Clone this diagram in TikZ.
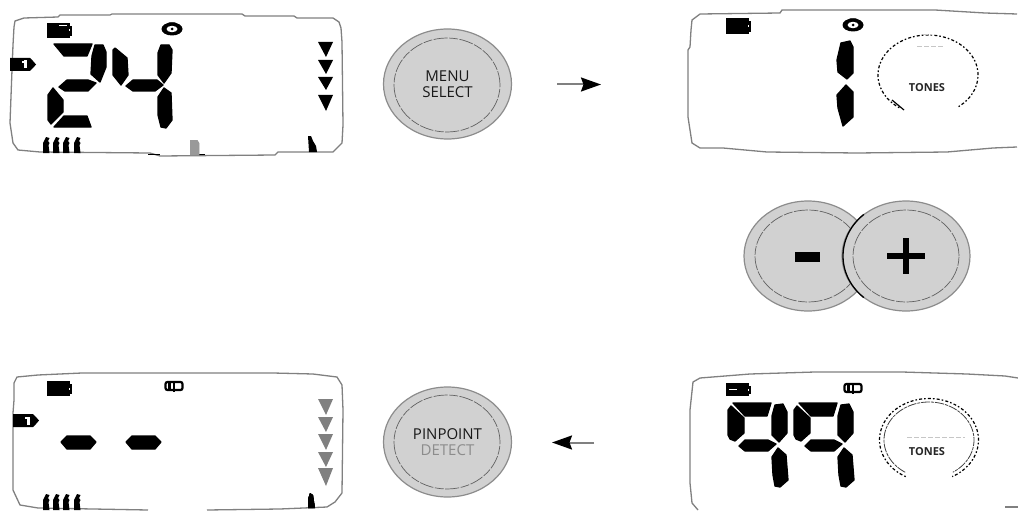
\documentclass[tikz,border=0pt]{standalone}
\usepackage{fontspec}
\setmainfont{Open Sans}
\usetikzlibrary{arrows.meta,shapes.geometric}
\definecolor{btn}{gray}{0.82}
\definecolor{btnedge}{gray}{0.55}
\definecolor{outl}{gray}{0.5}
\definecolor{tri}{gray}{0.5}
\tikzset{
  panel/.style={draw=outl,line width=1.3pt,line join=round},
  seg/.style={fill=black,draw=black,line width=1.3pt,line join=round},
  button/.style={ellipse,fill=btn,draw=btnedge,line width=1.2pt,inner sep=0pt,minimum width=128pt,minimum height=110pt,align=center,font=\fontsize{15}{15.5}\selectfont,text=black!90},
  innerring/.style={draw=gray!75!black,line width=.7pt,dash pattern=on 14pt off 1.5pt on 9pt off 1.5pt},
  flow/.style={draw=gray,line width=2pt,-{Stealth[length=20pt,width=14pt,inset=2.5pt,black]}},
  dialdots/.style={draw=black,line width=1.2pt,dash pattern=on 1.6pt off 2.2pt on 3pt off 2pt},
  dialsolid/.style={draw=black!75,line width=.8pt,dash pattern=on 9pt off 1pt on 3pt off 1pt},
  tones/.style={font=\bfseries\fontsize{11}{11}\selectfont,text=black!85,inner sep=0pt},
  faint/.style={draw=gray!45,line width=.7pt,dash pattern=on 5pt off 2pt}
}
\newcommand{\batt}[3]{% x y h
  \fill (#1,#2) rectangle (#1+23,#2+#3);
  \fill (#1+23,#2+3) rectangle (#1+25,#2+#3-2);
  \fill[white] (#1+22,#2+#3/2-1) rectangle (#1+23,#2+#3/2+1);}
\newcommand{\clockicon}[2]{%
  \fill (#1,#2) ellipse [x radius=10.5pt,y radius=6.5pt];
  \fill (#1-3,#2-6.5) -- (#1+3,#2-6.5) -- (#1+7,#2-3) -- (#1-7,#2-3) -- cycle;
  \fill[white] (#1,#2) ellipse [x radius=5.5pt,y radius=3.2pt];
  \fill (#1,#2) circle [radius=1.5pt];}
\newcommand{\speaker}[2]{%
  \draw[black,line width=2.2pt,rounded corners=2pt,fill=white] (#1-8.5,#2-4) rectangle (#1+8.5,#2+4);
  \draw[black,line width=1.4pt] (#1,#2-4) -- (#1,#2+6);
  \fill (#1-6,#2-3) rectangle (#1-3,#2+3);}
\newcommand{\tagone}[2]{%
  \fill (#1,#2) -- (#1+20,#2) -- (#1+23,#2+3) -- (#1+26,#2+6.5) -- (#1+23,#2+10) -- (#1+20,#2+13) -- (#1,#2+13) -- cycle;
  \fill[white] (#1+14,#2+2.5) rectangle (#1+17,#2+10.5);
  \fill[white] (#1+12,#2+3) rectangle (#1+15,#2+5);}
\newcommand{\barglyph}[2]{%
  \fill (#1,#2+16) -- (#1,#2+6) -- (#1+3,#2) -- (#1+6.5,#2+1) -- (#1+5,#2+4) -- (#1+6.5,#2+6) -- (#1+5.5,#2+8) -- (#1+6.5,#2+16) -- cycle;}
\newcommand{\nine}[1]{%
  \begin{scope}[shift={(#1,0)}]
  \fill[seg] (728,410) -- (731,406) -- (744,418) -- (744,433) -- (735,441) -- (730,439) -- (728,435) -- cycle;
  \fill[seg] (733,403) -- (771,403) -- (767,416) -- (745,416) -- cycle;
  \fill[seg] (772,416) -- (775,405) -- (783,404) -- (787,412) -- (787,433) -- (779,442) -- (772,435) -- cycle;
  \fill[seg] (739,446) -- (745,440) -- (768,440) -- (776,444) -- (768,451) -- (745,451) -- cycle;
  \fill[seg] (772,457) -- (778,448) -- (786,455) -- (788,480) -- (780,487) -- (775,486) -- (773,475) -- cycle;
  \end{scope}}
\begin{document}
\begin{tikzpicture}[x=1pt,y=-1pt]
\useasboundingbox (0,0) rectangle (1018,511);
\fill[white] (0,0) rectangle (1018,511);

% ---------- Panel 1 (top left)
\draw[panel] (14,27) -- (15,21) -- (24,18) -- (58,17) -- (60,15) -- (110,15) -- (112,14) -- (242,14) -- (245,16) -- (294,16) -- (297,18) -- (333,18) -- (339,22) -- (341,28) -- (342,42) -- (343,125) -- (342,143) -- (333,152) -- (278,152) -- (275,155) -- (160,156) -- (150,153) -- (40,152) -- (18,150) -- (13,143) -- (10,123) -- (12,70) -- (13,45) -- cycle;
\fill (148,153.5) rectangle (160,155);
\fill (193,153.5) rectangle (205,155);
\batt{47}{23}{15}
\fill[white] (59,25) rectangle (67,26.5);
\clockicon{172}{29}
\tagone{10}{58}
% digit 2
\fill[seg] (54,44) -- (92,44) -- (87,56) -- (64,56) -- cycle;
\fill[seg] (92,56) -- (95,45) -- (103,45) -- (106,52) -- (106,67) -- (100,82) -- (91,74) -- cycle;
\fill[seg] (59,87) -- (67,80) -- (88,80) -- (96,83) -- (88,91) -- (65,91) -- cycle;
\fill[seg] (48,95) -- (53,88) -- (63,100) -- (63,112) -- (51,124) -- (48,120) -- cycle;
\fill[seg] (54,127) -- (64,116) -- (87,116) -- (91,127) -- cycle;
% digit 4
\fill[seg] (113,50) -- (115,48) -- (127,58) -- (128,75) -- (121,85) -- (113,75) -- cycle;
\fill[seg] (126,86) -- (133,80) -- (157,80) -- (163,85) -- (155,91) -- (133,91) -- cycle;
\fill[seg] (158,53) -- (161,45) -- (169,45) -- (172,50) -- (171,73) -- (164,83) -- (158,75) -- cycle;
\fill[seg] (158,97) -- (164,88) -- (171,93) -- (172,120) -- (166,128) -- (161,127) -- (158,115) -- cycle;
% triangles
\foreach \yy/\hh in {42/15,60/14,77/13,95/16}
  \fill (318,\yy) -- (333,\yy) -- (326,\yy+\hh) -- cycle;
% bottom glyphs
\foreach \xx in {43,53,63,74} \barglyph{\xx}{137}
\fill[gray!80] (190,140) -- (197,140) -- (199,143) -- (199,155) -- (190,155) -- cycle;
\fill (308,136) -- (311,136) -- (313,141) -- (316,146) -- (317,152) -- (309,152) -- cycle;

% ---------- Panel 2 (top right)
\draw[panel] (691,30) -- (692,20) -- (700,14) -- (780,13) -- (782,10) -- (935,10) -- (985,13) -- (1017,14);
\draw[panel] (691,30) -- (690,47) -- (688,50) -- (688,117) -- (692,143) -- (700,148) -- (723,148) -- (767,152) -- (857,153) -- (947,152) -- (993,148) -- (1017,147);
\batt{726}{18}{16}
\clockicon{853}{25}
\fill[seg] (837,60) -- (841,43) -- (850,41) -- (853,47) -- (853,73) -- (847,79) -- (838,72) -- cycle;
\fill[seg] (837,95) -- (846,85) -- (853,92) -- (853,117) -- (843,126) -- (838,108) -- cycle;
\draw[dialdots,domain=125:415,samples=90,smooth] plot ({928+50*cos(\x)},{75+40*sin(\x)});
\draw[black,line width=1.2pt] (892,100) -- (904,110);
\draw[faint] (923,34) -- (932,34);
\draw[faint,line width=.5pt] (917,46) -- (943,46);
\node[tones] (tonesA) at (927,88) {TONES};

% ---------- Menu/select button and first arrow
\node[button] (menu) at (447.5,84) {MENU\\SELECT};
\draw[innerring] (447,85) ellipse [x radius=53pt,y radius=47pt];
\coordinate (a1s) at (557,84.5);
\coordinate (a1e) at (601,84.5);
\draw[flow] (a1s) -- (a1e);

% ---------- Minus / plus buttons
\node[button] (minus) at (808,256) {};
\draw[innerring] (808,256) ellipse [x radius=53pt,y radius=46pt];
\node[button] (plus) at (906,256) {};
\draw[innerring] (906,256) ellipse [x radius=53pt,y radius=46pt];
\draw[black,line width=1.3pt,domain=132:228,samples=40] plot ({906+63*cos(\x)},{256+56*sin(\x)});
\fill (795,252) rectangle (820,262);
\fill (887,253) rectangle (925,259);
\fill (903,238) rectangle (909,274);

% ---------- Panel 3 (bottom left)
\draw[panel] (14,383) -- (17,377) -- (38,375) -- (82,373) -- (273,373) -- (313,374) -- (337,377) -- (342,385) -- (343,410) -- (342,493) -- (335,502) -- (327,507) -- (280,509) -- (207,510);
\draw[panel] (14,383) -- (14,400) -- (13,413) -- (13,490) -- (20,505) -- (38,508) -- (148,510);
\batt{47}{381}{15}
\speaker{174}{386}
\tagone{13}{414}
\fill[seg] (61,442) -- (67,436) -- (90,436) -- (96,442) -- (90,449) -- (67,449) -- cycle;
\fill[seg] (126,442) -- (132,436) -- (155,436) -- (161,442) -- (155,449) -- (132,449) -- cycle;
\foreach \yy/\hh in {399/16,417/15,434/16,452/15,468/18}
  \fill[tri] (318,\yy) -- (333,\yy) -- (326,\yy+\hh) -- cycle;
\foreach \xx in {43,53,63,74} \barglyph{\xx}{494}
\fill (308,499) -- (310,493) -- (313,495) -- (315,508) -- (308,508) -- cycle;

% ---------- Pinpoint/detect button and second arrow
\node[button] (pin) at (447.5,442) {\textcolor{black!90}{PINPOINT}\\\textcolor{black!45}{DETECT}};
\draw[innerring] (447,442) ellipse [x radius=53pt,y radius=47pt];
\coordinate (a2s) at (594,442.5);
\coordinate (a2e) at (552,442.5);
\draw[flow] (a2s) -- (a2e);

% ---------- Panel 4 (bottom right)
\draw[panel] (1018,378) -- (1005,376) -- (967,374) -- (902,372) -- (815,372) -- (750,374) -- (700,378) -- (693,382) -- (690,410) -- (690,483) -- (692,503) -- (698,510);
\draw[panel] (1005,507) -- (1018,507);
\batt{726}{383}{13}
\fill[white] (729,389) rectangle (737,390);
\speaker{853}{388}
\nine{0}
\nine{66}
\draw[dialdots,domain=118:422,samples=90,smooth] plot ({929+49.5*cos(\x)},{440+41.5*sin(\x)});
\draw[dialsolid,domain=122:418,samples=90,smooth] plot ({929+45*cos(\x)},{440+38*sin(\x)});
\draw[faint,line width=.5pt] (907,437) -- (965,437);
\node[tones] (tonesB) at (927,452) {TONES};
\end{tikzpicture}
\end{document}
